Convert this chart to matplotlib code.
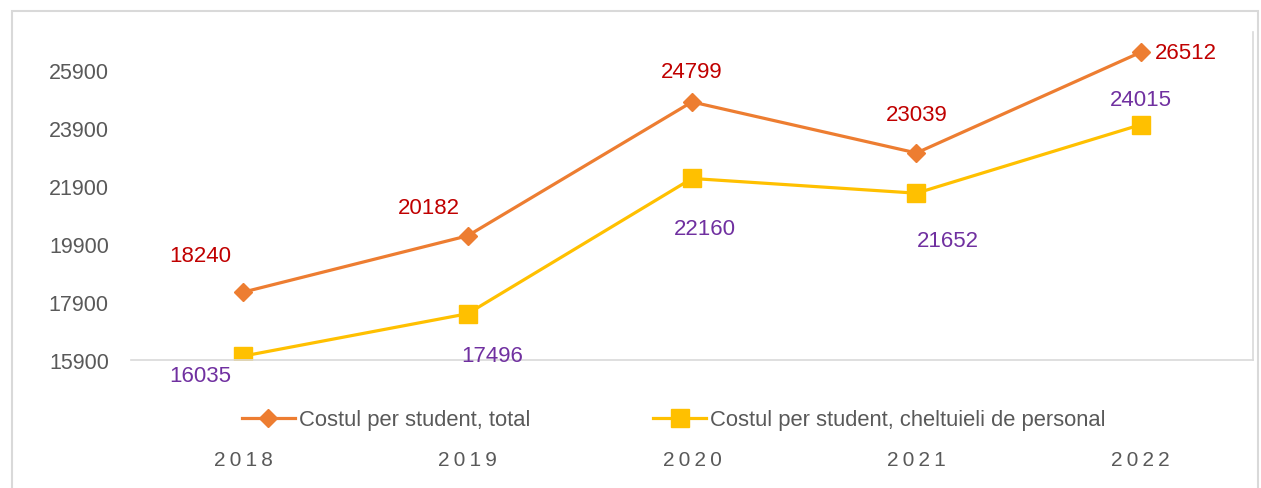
import matplotlib
matplotlib.use("Agg")
import matplotlib.pyplot as plt
from matplotlib.patches import Rectangle

# ======================== DATA ========================
years = ["2018", "2019", "2020", "2021", "2022"]
cost_total = [18240, 20182, 24799, 23039, 26512]
cost_personal = [16035, 17496, 22160, 21652, 24015]
y_ticks = [15900, 17900, 19900, 21900, 23900, 25900]

label_total = "Costul per student, total"
label_personal = "Costul per student, cheltuieli de personal"

# label offsets in pixels (dx, dy) relative to each point
off_total = [(-43, 37), (-39, 28), (0, 30), (0, 38), (14, 0)]
off_personal = [(-43, -19), (25, -42), (13, -50), (31, -47), (0, 25)]

plt.rcParams["font.family"] = ["Liberation Sans", "DejaVu Sans"]

W, H = 1261, 489
fig = plt.figure(figsize=(W / 100, H / 100), dpi=100)

# outer chart border
fig.patches.append(Rectangle((12 / W, -0.1), (1258 - 12) / W, (H - 12) / H + 0.1,
                             transform=fig.transFigure, fill=False,
                             edgecolor="#D9D9D9", linewidth=1.5))

ax = fig.add_axes([131 / W, (H - 361) / H, (1253 - 131) / W, (361 - 33) / H])
x = list(range(len(years)))

ax.plot(x, cost_total, color="#ED7D31", linewidth=2.3, marker="D",
        markersize=9.5, label=label_total)
ax.plot(x, cost_personal, color="#FFC000", linewidth=2.3, marker="s",
        markersize=13, label=label_personal)

ax.set_xlim(-0.5, len(years) - 0.5)
ax.set_ylim(15900, 25900 + (71 - 33) / 58 * 2000)

for i, v in enumerate(cost_total):
    dx, dy = off_total[i]
    ax.annotate(str(v), (x[i], v), xytext=(dx, dy), textcoords="offset pixels",
                ha="left" if i == len(years) - 1 else "center", va="center",
                color="#C00000", fontsize=16)
for i, v in enumerate(cost_personal):
    dx, dy = off_personal[i]
    ax.annotate(str(v), (x[i], v), xytext=(dx, dy), textcoords="offset pixels",
                ha="center", va="center", color="#7030A0", fontsize=16)

ax.set_yticks(y_ticks)
ax.set_yticklabels([str(t) for t in y_ticks], fontsize=15.5, color="#595959")
ax.tick_params(axis="y", length=0, pad=16)
ax.set_xticks(x)
# letter-spaced year labels
ax.set_xticklabels(["\u2009".join(y) for y in years], fontsize=15, color="#595959")
ax.tick_params(axis="x", length=0, pad=65)

for s in ["left", "top"]:
    ax.spines[s].set_visible(False)
for s in ["right", "bottom"]:
    ax.spines[s].set_color("#D9D9D9")
    ax.spines[s].set_linewidth(1.2)

leg = fig.legend(loc="center", bbox_to_anchor=(674 / W, (H - 421) / H), ncol=2,
                 frameon=False, columnspacing=5.6, handlelength=2.4,
                 handletextpad=0.2,
                 prop={"family": ["Liberation Sans Narrow", "Liberation Sans"], "size": 15.8})
for t in leg.get_texts():
    t.set_color("#595959")

fig.savefig("out.png", dpi=100)
